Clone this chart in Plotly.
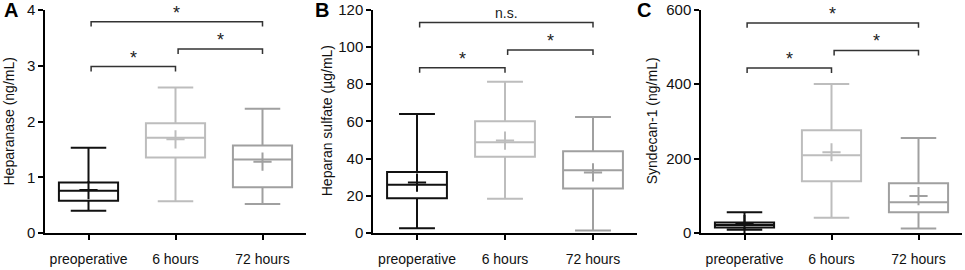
import plotly.graph_objects as go

categories = ["preoperative", "6 hours", "72 hours"]
colors = ["#111111", "#bdbdbd", "#a0a0a0"]

# Panel A: Heparanase (ng/mL)
a_low = [0.40, 0.57, 0.52]
a_q1 = [0.58, 1.355, 0.82]
a_med = [0.76, 1.71, 1.32]
a_q3 = [0.905, 1.97, 1.57]
a_high = [1.53, 2.61, 2.23]
a_mean = [0.77, 1.68, 1.28]

# Panel B: Heparan sulfate (ug/mL)
b_low = [2.5, 18.4, 1.3]
b_q1 = [18.6, 41.0, 23.9]
b_med = [25.9, 48.7, 33.7]
b_q3 = [32.7, 60.0, 43.9]
b_high = [63.9, 81.2, 62.3]
b_mean = [27.1, 49.6, 32.5]

# Panel C: Syndecan-1 (ng/mL)
c_low = [8.8, 40.7, 12.4]
c_q1 = [15.0, 139.0, 55.8]
c_med = [21.2, 208.8, 82.3]
c_q3 = [28.3, 276.0, 133.6]
c_high = [55.8, 400.0, 254.9]
c_mean = [24.0, 216.8, 99.0]

# Significance brackets: (from, to, bracket level, label)
a_sig = [(0, 1, 2.985, "*"), (1, 2, 3.30, "*"), (0, 2, 3.79, "*")]
b_sig = [(0, 1, 88.7, "*"), (1, 2, 98.2, "*"), (0, 2, 113.0, "n.s.")]
c_sig = [(0, 1, 443.0, "*"), (1, 2, 490.0, "*"), (0, 2, 564.0, "*")]

panels = [
    dict(low=a_low, q1=a_q1, med=a_med, q3=a_q3, high=a_high, mean=a_mean,
         sig=a_sig, yrange=[0, 4], dtick=1, title="Heparanase (ng/mL)",
         letter="A", dom=[45, 306], top=10, ttl_x=9, let_x=11),
    dict(low=b_low, q1=b_q1, med=b_med, q3=b_q3, high=b_high, mean=b_mean,
         sig=b_sig, yrange=[0, 120], dtick=20, title="Heparan sulfate (\u00b5g/mL)",
         letter="B", dom=[373, 637], top=9.5, ttl_x=327, let_x=322),
    dict(low=c_low, q1=c_q1, med=c_med, q3=c_q3, high=c_high, mean=c_mean,
         sig=c_sig, yrange=[0, 600], dtick=200, title="Syndecan-1 (ng/mL)",
         letter="C", dom=[701, 962], top=9.5, ttl_x=652, let_x=644),
]

W, H = 965, 270
bottom_px = 233

fig = go.Figure()
annotations = []
layout = {}

for p_i, p in enumerate(panels):
    sfx = "" if p_i == 0 else str(p_i + 1)
    xa, ya = "x" + sfx, "y" + sfx
    span = p["yrange"][1] - p["yrange"][0]
    for i in range(3):
        fig.add_trace(go.Box(
            x=[i], q1=[p["q1"][i]], median=[p["med"][i]], q3=[p["q3"][i]],
            lowerfence=[p["low"][i]], upperfence=[p["high"][i]],
            width=0.68, whiskerwidth=0.6, fillcolor="rgba(0,0,0,0)",
            line=dict(color=colors[i], width=2), boxpoints=False,
            xaxis=xa, yaxis=ya, showlegend=False, hoverinfo="skip"))
        fig.add_trace(go.Scatter(
            x=[i], y=[p["mean"][i]], mode="markers",
            marker=dict(symbol="cross-thin", size=13,
                        line=dict(color=colors[i], width=2)),
            xaxis=xa, yaxis=ya, showlegend=False, hoverinfo="skip"))
    tick = span * 0.022
    for (s, e, lvl, lab) in p["sig"]:
        fig.add_trace(go.Scatter(
            x=[s + 0.03, s + 0.03, e, e], y=[lvl - tick, lvl, lvl, lvl - tick],
            mode="lines", line=dict(color="#333333", width=1.5),
            xaxis=xa, yaxis=ya, showlegend=False, hoverinfo="skip", cliponaxis=False))
        annotations.append(dict(
            x=(s + e) / 2 + 0.015, y=lvl, xref=xa, yref=ya,
            text=lab, showarrow=False, yanchor="bottom",
            yshift=(-3 if lab == "*" else 0),
            font=dict(size=18 if lab == "*" else 14, color="#222222",
                      family="Liberation Sans, Arial, sans-serif")))
    dom = [p["dom"][0] / W, p["dom"][1] / W]
    ydom = [(H - bottom_px) / H, (H - p["top"]) / H]
    layout["xaxis" + sfx] = dict(
        domain=dom, range=[-0.5, 2.5], tickvals=[0, 1, 2], ticktext=categories,
        showgrid=False, zeroline=False, showline=True, linecolor="#000000",
        linewidth=1.5, ticks="outside", ticklen=5, tickwidth=1.5,
        tickcolor="#000000", ticklabelstandoff=7, automargin=False,
        ticklabeloverflow="allow",
        tickfont=dict(size=14, color="#111111"), anchor=ya, fixedrange=True)
    layout["yaxis" + sfx] = dict(
        domain=ydom, range=p["yrange"], dtick=p["dtick"], tick0=0,
        showgrid=False, zeroline=False, showline=True, linecolor="#000000",
        linewidth=1.5, ticks="outside", ticklen=5, tickwidth=1.5,
        tickcolor="#000000", tickfont=dict(size=15, color="#111111"),
        ticklabeloverflow="allow",
        automargin=False, anchor=xa, fixedrange=True)
    annotations.append(dict(
        x=p["ttl_x"] / W, y=(H - (bottom_px + p["top"]) / 2) / H,
        xref="paper", yref="paper", text=p["title"], textangle=-90,
        showarrow=False, xanchor="center", yanchor="middle",
        font=dict(size=14, color="#111111")))
    annotations.append(dict(
        x=p["let_x"] / W, y=(H - 10.5) / H, xref="paper", yref="paper",
        text="<b>" + p["letter"] + "</b>", showarrow=False,
        xanchor="center", yanchor="middle",
        font=dict(size=20, color="#000000")))

fig.update_layout(
    width=W, height=H, margin=dict(l=0, r=0, t=0, b=0, autoexpand=False),
    paper_bgcolor="white", plot_bgcolor="white",
    font=dict(family="Liberation Sans, Arial, sans-serif", color="#111111"),
    annotations=annotations, **layout)

fig.write_html("out.html", config={"displayModeBar": False},
               post_script="document.body.style.margin='0';")
